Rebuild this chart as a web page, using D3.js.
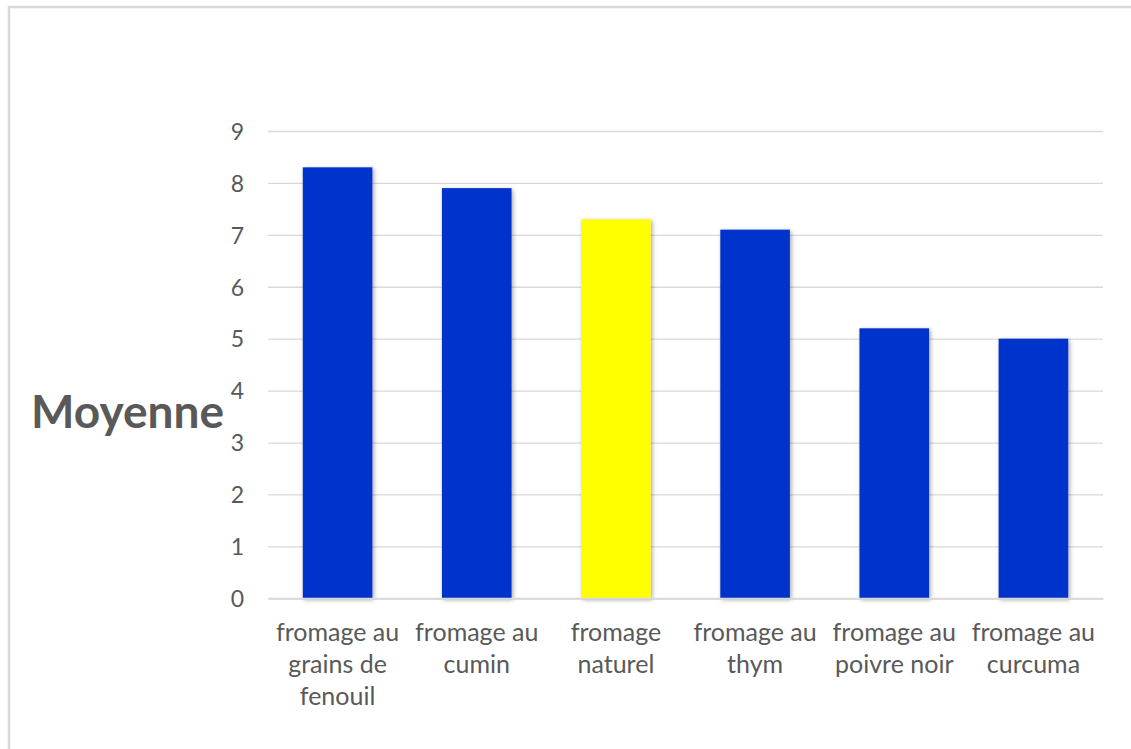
<!DOCTYPE html>
<html>
<head>
<meta charset="utf-8">
<script src="https://cdn.jsdelivr.net/npm/d3@7"></script>
<style>
  html, body { margin: 0; padding: 0; background: #fff; }
  svg { display: block; }
</style>
</head>
<body>
<svg id="chart" width="1131" height="749"></svg>
<script>
// Average scores per cheese
const categories = [
  "fromage au grains de fenouil",
  "fromage au cumin",
  "fromage naturel",
  "fromage au thym",
  "fromage au poivre noir",
  "fromage au curcuma"
];
// Label lines as they wrap under each bar
const categoryLines = [
  ["fromage au", "grains de", "fenouil"],
  ["fromage au", "cumin"],
  ["fromage", "naturel"],
  ["fromage au", "thym"],
  ["fromage au", "poivre noir"],
  ["fromage au", "curcuma"]
];
const moyennes = [8.3, 7.9, 7.3, 7.1, 5.2, 5.0];
const highlighted = ["fromage naturel"];
const yTicks = [0, 1, 2, 3, 4, 5, 6, 7, 8, 9];
const yTitle = "Moyenne";

const svg = d3.select("#chart");
const W = 1131, H = 749;
const margin = { left: 268, right: 28, top: 131, bottom: 151 };

// Outer frame (top and left edges visible)
svg.append("rect")
  .attr("x", 9).attr("y", 7)
  .attr("width", W + 20).attr("height", H + 20)
  .attr("fill", "#fff")
  .attr("stroke", "#d9d9d9")
  .attr("stroke-width", 2.5);

const defs = svg.append("defs");
const f = defs.append("filter").attr("id", "shadow")
  .attr("x", "-20%").attr("y", "-10%").attr("width", "140%").attr("height", "120%");
f.append("feDropShadow")
  .attr("dx", 1.5).attr("dy", 1.5).attr("stdDeviation", 2.2)
  .attr("flood-color", "#000").attr("flood-opacity", 0.35);

const x = d3.scaleBand()
  .domain(categories)
  .range([margin.left, W - margin.right])
  .paddingInner(0.5)
  .paddingOuter(0.25);

const y = d3.scaleLinear()
  .domain([0, 9])
  .range([H - margin.bottom + 0.3, margin.top]);

const font = "Lato, 'Open Sans', sans-serif";
const textColor = "#595959";

// Horizontal gridlines and y tick labels
const yAxis = d3.axisLeft(y)
  .tickValues(yTicks)
  .tickSize(-(W - margin.right - margin.left))
  .tickPadding(24)
  .tickFormat(d3.format("d"));

const gy = svg.append("g")
  .attr("transform", `translate(${margin.left},0)`)
  .call(yAxis);
gy.select(".domain").remove();
gy.selectAll(".tick line")
  .attr("stroke", "#d9d9d9")
  .attr("stroke-width", 1.3);
gy.selectAll(".tick text")
  .attr("fill", textColor)
  .attr("font-family", font)
  .attr("font-size", 23)
  .attr("dy", "0.36em");

// Bars
svg.append("g")
  .selectAll("rect")
  .data(categories)
  .join("rect")
  .attr("x", d => x(d))
  .attr("width", x.bandwidth())
  .attr("y", (d, i) => y(moyennes[i]))
  .attr("height", (d, i) => y(0) - y(moyennes[i]))
  .attr("fill", d => highlighted.includes(d) ? "#FFFF00" : "#0033CC")
  .attr("filter", "url(#shadow)");

// Baseline
const gx = svg.append("g")
  .attr("transform", `translate(0,${y(0)})`)
  .call(d3.axisBottom(x).tickSize(0).tickFormat(""));
gx.select(".domain")
  .attr("stroke", "#d9d9d9")
  .attr("stroke-width", 2);

// Category labels
const labels = svg.append("g")
  .selectAll("text")
  .data(categories)
  .join("text")
  .attr("x", d => x(d) + x.bandwidth() / 2)
  .attr("y", y(0) + 43)
  .attr("text-anchor", "middle")
  .attr("fill", textColor)
  .attr("font-family", font)
  .attr("font-size", 25);
labels.each(function (d, i) {
  d3.select(this).selectAll("tspan")
    .data(categoryLines[i])
    .join("tspan")
    .attr("x", x(d) + x.bandwidth() / 2)
    .attr("dy", (t, j) => j === 0 ? 0 : 32)
    .text(t => t);
});

// Y axis title
svg.append("text")
  .attr("x", 224)
  .attr("y", 428)
  .attr("text-anchor", "end")
  .attr("fill", textColor)
  .attr("font-family", font)
  .attr("font-weight", "bold")
  .attr("font-size", 46)
  .text(yTitle);
</script>
</body>
</html>
